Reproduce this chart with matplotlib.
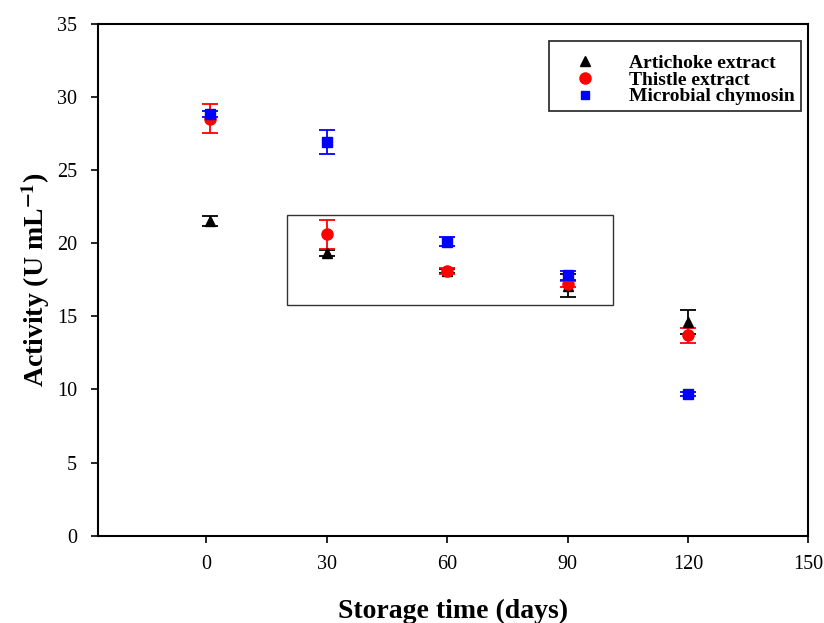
import matplotlib
matplotlib.use("Agg")
import matplotlib.pyplot as plt
from matplotlib.patches import Rectangle
from matplotlib.lines import Line2D

plt.rcParams['font.family'] = ['Liberation Serif', 'DejaVu Serif']
plt.rcParams['mathtext.fontset'] = 'stix'

# storage time (days)
days = [1, 30, 60, 90, 120]

# activity values and error bars
artichoke = [21.5, 19.3, 18.1, 17.1, 14.6]
artichoke_err = [0.35, 0.2, 0.15, 0.8, 0.8]
thistle = [28.5, 20.6, 18.1, 17.2, 13.7]
thistle_err = [1.0, 1.0, 0.2, 0.2, 0.5]
chymosin = [28.8, 26.9, 20.1, 17.8, 9.7]
chymosin_err = [0.2, 0.8, 0.3, 0.3, 0.15]

labels = ['Artichoke extract', 'Thistle extract', 'Microbial chymosin']
xticks = [0, 30, 60, 90, 120, 150]
yticks = [0, 5, 10, 15, 20, 25, 30, 35]

fig = plt.figure(figsize=(8.24, 6.23), dpi=100)
ax = fig.add_axes([0.119, 0.140, 0.862, 0.822])

ax.errorbar(days, artichoke, yerr=artichoke_err, fmt='^', color='black',
            ms=7, capsize=6, elinewidth=1.3, capthick=1.3)
ax.errorbar(days, thistle, yerr=thistle_err, fmt='o', color='red',
            ms=8, capsize=6, elinewidth=1.3, capthick=1.3)
ax.errorbar(days, chymosin, yerr=chymosin_err, fmt='s', color='blue',
            ms=7, capsize=6, elinewidth=1.3, capthick=1.3)

# box around the 30-90 day group
ax.add_patch(Rectangle((20.2, 15.8), 81, 6.1, fill=False, edgecolor='#333333', lw=1.0))

ax.set_xlim(-27, 150)
ax.set_ylim(0, 35)
ax.set_xticks(xticks)
ax.set_yticks(yticks)
ax.tick_params(direction='out', length=5, width=1.2, labelsize=14.5,
               top=False, right=False)
ax.tick_params(axis='x', pad=9)
ax.tick_params(axis='y', pad=10)
for s in ax.spines.values():
    s.set_linewidth(1.5)

ax.set_xlabel('Storage time (days)', fontsize=20, fontweight='bold', labelpad=18)
ax.set_ylabel(r'Activity (U mL$^{\mathbf{-1}}$)', fontsize=20, fontweight='bold', labelpad=4)

handles = [Line2D([], [], ls='', marker='^', color='black', ms=7),
           Line2D([], [], ls='', marker='o', color='red', ms=8),
           Line2D([], [], ls='', marker='s', color='blue', ms=6)]
# blank title gives the extra space above the first entry
leg = ax.legend(handles, labels, loc='upper right', bbox_to_anchor=(0.989, 0.967),
                borderaxespad=0, frameon=True, fancybox=False, edgecolor='black',
                prop={'weight': 'bold', 'size': 14}, borderpad=0.3,
                labelspacing=-0.05, handlelength=3.1, handletextpad=0.7,
                title=' ', title_fontsize=7)
leg.get_frame().set_linewidth(1.3)

fig.savefig('out.png', dpi=100)
